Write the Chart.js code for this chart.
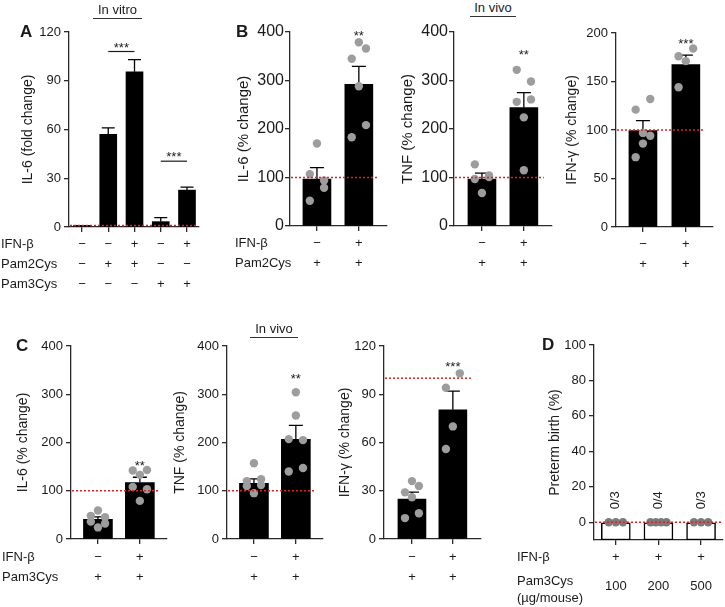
<!DOCTYPE html>
<html><head><meta charset="utf-8">
<script src="https://cdn.jsdelivr.net/npm/chart.js@4.4.1/dist/chart.umd.min.js"></script>
<style>
html,body{margin:0;padding:0;background:#fff;width:725px;height:607px;overflow:hidden;font-family:"Liberation Sans",Arial,Helvetica,sans-serif;color:#1a1a1a}
canvas{position:absolute}
.lbl{position:absolute;font-size:13px;line-height:16px;white-space:nowrap}
.letter{position:absolute;font-size:17px;font-weight:bold;line-height:20px}
.hdr{position:absolute;font-size:13px;line-height:16px;text-align:center;border-bottom:1.3px solid #333}
</style></head><body>
<script>
// ---------------- DATA ----------------
// Panel A (in vitro)
const rowNamesA = ['IFN-β', 'Pam2Cys', 'Pam3Cys'];
const ifnA  = ['−', '−', '+', '−', '+'];
const pam2A = ['−', '+', '+', '−', '−'];
const pam3A = ['−', '−', '−', '+', '+'];
const il6A_mean = [1, 57, 95.5, 3.3, 22.7];
const il6A_sem  = [0, 4, 7.5, 2.5, 1.8];
const yTicksA = [0, 30, 60, 90, 120];
const sigA = [{from: 1, to: 2, y: 108, text: '***'}, {from: 3, to: 4, y: 40.5, text: '***'}];

// Panel B (in vivo, Pam2Cys)
const rowNamesB = ['IFN-β', 'Pam2Cys'];
const ifnB  = ['−', '+'];
const pam2B = ['+', '+'];
const il6B_mean = [97, 292];
const il6B_sem  = [23.5, 37];
const il6B_pts  = [[170, 107, 94, 52, 79], [379, 345, 366, 183, 208, 288]];
const il6B_sig  = [{at: 1, y: 398, text: '**'}];
const tnfB_mean = [97, 244];
const tnfB_sem  = [12, 31];
const tnfB_pts  = [[68, 127, 104, 97, 101], [224, 322, 298, 256, 261, 115]];
const tnfB_sig  = [{at: 1, y: 359, text: '**'}];
const ifngB_mean = [99.3, 167.5];
const ifngB_sem  = [10.4, 9.6];
const ifngB_pts  = [[86, 121, 132, 72, 94, 97], [171, 176, 184, 144]];
const ifngB_sig  = [{at: 1, y: 192, text: '***'}];
const yTicksB  = [0, 100, 200, 300, 400];
const yTicksB3 = [0, 50, 100, 150, 200];

// Panel C (in vivo, Pam3Cys)
const rowNamesC = ['IFN-β', 'Pam3Cys'];
const ifnC  = ['−', '+'];
const pam3C = ['+', '+'];
const il6C_mean = [41, 117];
const il6C_sem  = [5, 11];
const il6C_pts  = [[59, 48, 45, 36, 32, 24], [133, 142, 143, 108, 103, 79]];
const il6C_sig  = [{at: 1, y: 158, text: '**'}];
const tnfC_mean = [115.5, 206.6];
const tnfC_sem  = [9, 29];
const tnfC_pts  = [[157, 120, 124, 110, 112, 95], [304, 207, 205, 140, 147, 256]];
const tnfC_sig  = [{at: 1, y: 338, text: '**'}];
const ifngC_mean = [24.8, 80.3];
const ifngC_sem  = [4.4, 11.6];
const ifngC_pts  = [[36, 29, 33, 13, 16, 26], [70, 94, 103, 56]];
const ifngC_sig  = [{at: 1, y: 109, text: '***'}];
const yTicksC  = [0, 100, 200, 300, 400];
const yTicksC3 = [0, 30, 60, 90, 120];

// Panel D (preterm birth)
const rowNamesD = ['IFN-β', 'Pam3Cys', '(µg/mouse)'];
const ifnD  = ['+', '+', '+'];
const doseD = ['100', '200', '500'];
const pretermD = [0, 0, 0];
const pretermD_pts = [[0, 0, 0], [0, 0, 0, 0], [0, 0, 0]];
const countsD = ['0/3', '0/4', '0/3'];
const yTicksD = [0, 20, 40, 60, 80, 100];
const yMinD = -10;

const refFold = 1, refPct = 100, refZero = 0;

// ---------------- RENDER ----------------
const FONT = '"Liberation Sans", Arial, Helvetica, sans-serif';
const INK = '#1a1a1a', AX = '#2a2a2a';

function jitter(grp, k) {
  if (grp.every(v => v === grp[0])) return (k - (grp.length - 1) / 2) * (0.5 / grp.length);
  return [0, -1, 1, -1, 1, 0][k % 6] * 0.17;
}

function makeExtras(d, g) {
  return {
    id: 'extras',
    beforeDatasetsDraw(chart) {
      if (!d.sem) return;
      const {ctx, scales: {x, y}} = chart;
      ctx.save();
      ctx.strokeStyle = '#000'; ctx.lineWidth = 1.3;
      d.mean.forEach((m, i) => {
        const s = d.sem[i]; if (!s) return;
        const px = x.getPixelForValue(i), y0 = y.getPixelForValue(m), y1 = y.getPixelForValue(m + s);
        ctx.beginPath(); ctx.moveTo(px, y0); ctx.lineTo(px, y1);
        ctx.moveTo(px - g.cap, y1); ctx.lineTo(px + g.cap, y1); ctx.stroke();
      });
      ctx.restore();
    },
    afterDatasetsDraw(chart) {
      const {ctx, chartArea: a, scales: {x, y}} = chart;
      ctx.save();
      const py = y.getPixelForValue(d.ref);
      ctx.strokeStyle = '#e02020'; ctx.lineWidth = 1.5; ctx.setLineDash([2, 2]);
      ctx.beginPath(); ctx.moveTo(a.left + 1, py); ctx.lineTo(a.right - g.refInset, py); ctx.stroke();
      ctx.setLineDash([]);
      ctx.fillStyle = INK; ctx.strokeStyle = INK; ctx.lineWidth = 1.2;
      ctx.font = '13px ' + FONT; ctx.textAlign = 'center'; ctx.textBaseline = 'alphabetic';
      (d.sig || []).forEach(s => {
        const sy = y.getPixelForValue(s.y);
        if (s.from !== undefined) {
          const x0 = x.getPixelForValue(s.from), x1 = x.getPixelForValue(s.to);
          ctx.beginPath(); ctx.moveTo(x0, sy); ctx.lineTo(x1, sy); ctx.stroke();
          ctx.fillText(s.text, (x0 + x1) / 2, sy);
        } else {
          ctx.fillText(s.text, x.getPixelForValue(s.at), sy + 7);
        }
      });
      (d.barText || []).forEach((t, i) => {
        const px = x.getPixelForValue(i), ty = y.getPixelForValue(d.mean[i]) - 22;
        ctx.save(); ctx.translate(px, ty); ctx.rotate(-Math.PI / 2);
        ctx.textBaseline = 'middle'; ctx.fillText(t, 0, 0); ctx.restore();
      });
      ctx.restore();
    }
  };
}

function panel(g, d) {
  const pT = 14, pR = 4;
  const W = Math.round((g.right - g.left) + g.wy + pR);
  const H = Math.round((g.bottom - g.top) + pT + g.hx);
  const cv = document.createElement('canvas');
  cv.width = W; cv.height = H;
  cv.style.left = (g.left - g.wy) + 'px'; cv.style.top = (g.top - pT) + 'px';
  cv.style.width = W + 'px'; cv.style.height = H + 'px';
  document.body.appendChild(cv);
  const yMin = d.yMin !== undefined ? d.yMin : d.yTicks[0];
  const datasets = [{
    type: 'bar',
    data: d.mean.map((v, i) => ({x: i, y: d.yMin !== undefined ? [d.yMin, v] : v})),
    backgroundColor: d.hollow ? '#fff' : '#000',
    borderColor: '#000', borderWidth: d.hollow ? 1.5 : 0, borderSkipped: false,
    barThickness: g.bar, order: 2
  }];
  if (d.pts) {
    datasets.push({
      type: 'scatter',
      data: d.pts.flatMap((grp, i) => grp.map((v, k) => ({x: i + jitter(grp, k), y: v}))),
      pointRadius: 4.2, pointBackgroundColor: d.dot || '#9d9d9d', pointBorderWidth: 0,
      clip: false, order: 1
    });
  }
  const axisCommon = {
    grid: {drawOnChartArea: false, drawTicks: true, tickLength: 5, color: AX, lineWidth: 1.3, offset: false},
    border: {display: true, color: AX, width: 1.3}
  };
  new Chart(cv, {
    type: 'bar',
    data: {datasets},
    options: {
      responsive: false, animation: false, devicePixelRatio: window.devicePixelRatio || 1,
      layout: {padding: {top: pT, right: pR, left: 0, bottom: 0}},
      plugins: {legend: {display: false}, tooltip: {enabled: false}},
      scales: {
        x: Object.assign({
          type: 'linear', min: g.xmin, max: g.xmax, offset: false,
          afterBuildTicks: ax => { ax.ticks = d.mean.map((_, i) => ({value: i})); },
          afterFit: ax => { ax.height = g.hx; },
          ticks: {autoSkip: false, maxRotation: 0, minRotation: 0, padding: g.pad, color: INK,
                  font: {family: FONT, size: 13, lineHeight: g.lh + 'px'},
                  callback: (v, i) => d.rows.map(r => r[i])}
        }, axisCommon),
        y: Object.assign({
          type: 'linear', min: yMin, max: d.yTicks[d.yTicks.length - 1],
          afterBuildTicks: ax => { ax.ticks = d.yTicks.map(v => ({value: v})); },
          afterFit: ax => { ax.width = g.wy; },
          ticks: {padding: g.tp, color: INK, font: {family: FONT, size: g.tf}},
          title: {display: true, text: d.title, color: INK, font: {family: FONT, size: g.ttf, lineHeight: 1.2}, padding: 0}
        }, axisCommon)
      }
    },
    plugins: [makeExtras(d, g)]
  });
}

function text(cls, t, left, top, extra) {
  const el = document.createElement('div');
  el.className = cls; el.textContent = t;
  el.style.left = left + 'px'; el.style.top = top + 'px';
  if (extra) Object.assign(el.style, extra);
  document.body.appendChild(el);
}

// Panel A
panel({left: 69, right: 199, top: 32, bottom: 227, xmin: -0.495, xmax: 4.457, bar: 17, cap: 6.5, wy: 49, hx: 75, pad: 2, lh: 20, refInset: 2, tf: 13, tp: 3, ttf: 14},
      {mean: il6A_mean, sem: il6A_sem, yTicks: yTicksA, title: 'IL-6 (fold change)', rows: [ifnA, pam2A, pam3A], ref: refFold, sig: sigA});
// Panel B
panel({left: 290, right: 387, top: 32, bottom: 226, xmin: -0.643, xmax: 1.667, bar: 28, cap: 7, wy: 55, hx: 55, pad: 2, lh: 20, refInset: 8, tf: 16, tp: 1, ttf: 15},
      {mean: il6B_mean, sem: il6B_sem, pts: il6B_pts, yTicks: yTicksB, title: 'IL-6 (% change)', rows: [ifnB, pam2B], ref: refPct, sig: il6B_sig});
panel({left: 454, right: 552, top: 32, bottom: 226, xmin: -0.667, xmax: 1.667, bar: 28, cap: 7, wy: 55, hx: 55, pad: 2, lh: 20, refInset: 8, tf: 16, tp: 1, ttf: 15},
      {mean: tnfB_mean, sem: tnfB_sem, pts: tnfB_pts, yTicks: yTicksB, title: 'TNF (% change)', rows: [ifnB, pam2B], ref: refPct, sig: tnfB_sig});
panel({left: 616, right: 713, top: 33, bottom: 227, xmin: -0.628, xmax: 1.628, bar: 28, cap: 7, wy: 52, hx: 55, pad: 2, lh: 20, refInset: 8, tf: 13, tp: 3, ttf: 14},
      {mean: ifngB_mean, sem: ifngB_sem, pts: ifngB_pts, yTicks: yTicksB3, title: 'IFN-γ (% change)', rows: [ifnB, pam2B], ref: refPct, sig: ifngB_sig});
// Panel C
panel({left: 71, right: 167, top: 346, bottom: 539, xmin: -0.643, xmax: 1.643, bar: 29, cap: 7, wy: 56, hx: 55, pad: 3, lh: 20, refInset: 8, tf: 13, tp: 3, ttf: 14},
      {mean: il6C_mean, sem: il6C_sem, pts: il6C_pts, yTicks: yTicksC, title: 'IL-6 (% change)', rows: [ifnC, pam3C], ref: refPct, sig: il6C_sig});
panel({left: 227, right: 323, top: 346, bottom: 539, xmin: -0.643, xmax: 1.643, bar: 29, cap: 7, wy: 55, hx: 55, pad: 3, lh: 20, refInset: 8, tf: 13, tp: 3, ttf: 14},
      {mean: tnfC_mean, sem: tnfC_sem, pts: tnfC_pts, yTicks: yTicksC, title: 'TNF (% change)', rows: [ifnC, pam3C], ref: refPct, sig: tnfC_sig});
panel({left: 384, right: 481, top: 346, bottom: 539, xmin: -0.683, xmax: 1.683, bar: 28, cap: 7, wy: 47, hx: 55, pad: 3, lh: 20, refInset: 10, tf: 13, tp: 3, ttf: 14},
      {mean: ifngC_mean, sem: ifngC_sem, pts: ifngC_pts, yTicks: yTicksC3, title: 'IFN-γ (% change)', rows: [ifnC, pam3C], ref: refPct, sig: ifngC_sig});
// Panel D
panel({left: 594, right: 723, top: 345, bottom: 539.5, xmin: -0.512, xmax: 2.51, bar: 29, cap: 7, wy: 47, hx: 62, pad: 5, lh: 14.5, refInset: 0, tf: 13, tp: 3, ttf: 14},
      {mean: pretermD, pts: pretermD_pts, dot: '#7a7a7a', hollow: true, yMin: yMinD, yTicks: yTicksD, title: 'Preterm birth (%)', rows: [ifnD, ['', '', ''], doseD], ref: refZero, barText: countsD});

// Row names
rowNamesA.forEach((t, r) => text('lbl', t, 1, 244 + 20 * r - 8));
rowNamesB.forEach((t, r) => text('lbl', t, 235, 243 + 20 * r - 8));
rowNamesC.forEach((t, r) => text('lbl', t, 2, 557 + 20 * r - 8));
[557, 581, 598].forEach((cy, r) => text('lbl', rowNamesD[r], 517, cy - 8));

// Panel letters
text('letter', 'A', 20, 22);
text('letter', 'B', 236, 22);
text('letter', 'C', 16, 336);
text('letter', 'D', 542, 335);

// Headers
text('hdr', 'In vitro', 93, 2, {width: '49px'});
text('hdr', 'In vivo', 470, 0, {width: '46px'});
text('hdr', 'In vivo', 250, 321, {width: '48px'});
</script>
</body></html>
